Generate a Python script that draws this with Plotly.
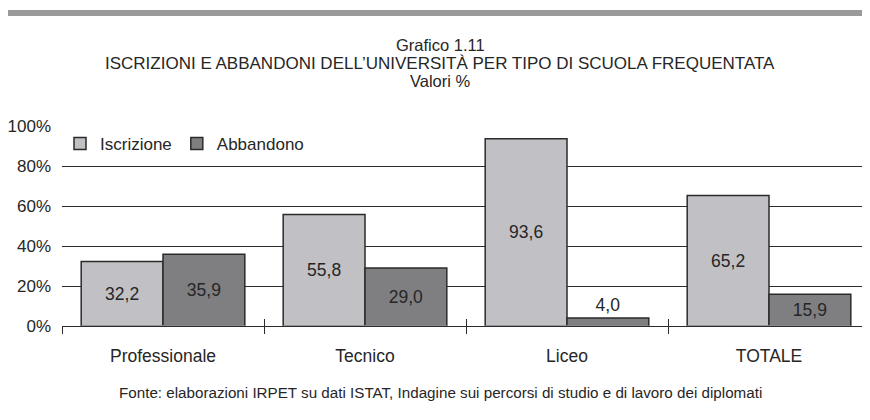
import plotly.graph_objects as go

# Dati
categorie = ["Professionale", "Tecnico", "Liceo", "TOTALE"]
iscrizione = [32.2, 55.8, 93.6, 65.2]
abbandono = [35.9, 29.0, 4.0, 15.9]

FONT = "Liberation Sans, Arial, sans-serif"
COLOR_TESTO = "#262626"
COLOR_ISCR = "#c1c1c5"
COLOR_ABB = "#7f7f82"
COLOR_BORDO = "#2b2b2b"

# la pagina ha un margine di 8px: coordinate in pixel della pagina -> figura
OFF = 8
W, H = 870 - OFF, 420 - OFF
L = 62 - OFF
T = 126 - OFF
B = H - (326 - OFF)
R = 0
pw = W - L - R
ph = H - T - B


def px_x(x):
    return (x - OFF - L) / pw


def px_y(y):
    return (H - B - (y - OFF)) / ph


def etichette(vals):
    return [f"{v:.1f}".replace(".", ",") for v in vals]


fig = go.Figure()

fig.add_trace(go.Bar(
    x=categorie, y=iscrizione, name="Iscrizione",
    marker=dict(color=COLOR_ISCR, line=dict(color=COLOR_BORDO, width=1.5)),
    text=etichette(iscrizione), textposition="inside", insidetextanchor="middle",
    textfont=dict(size=17.5, color=COLOR_TESTO), constraintext="none",
))
fig.add_trace(go.Bar(
    x=categorie, y=abbandono, name="Abbandono",
    marker=dict(color=COLOR_ABB, line=dict(color=COLOR_BORDO, width=1.5)),
    text=etichette(abbandono), textposition="auto", insidetextanchor="middle",
    textfont=dict(size=17.5, color=COLOR_TESTO), constraintext="none",
    outsidetextfont=dict(size=17.5, color=COLOR_TESTO),
))

# asse secondario solo per i trattini che attraversano l'asse x
fig.add_trace(go.Bar(x=categorie, y=[0] * 4, xaxis="x2", showlegend=False,
                     hoverinfo="skip", marker=dict(color="rgba(0,0,0,0)")))

fig.update_layout(
    width=W, height=H,
    margin=dict(l=L, r=R, t=T, b=B),
    paper_bgcolor="white", plot_bgcolor="white",
    font=dict(family=FONT, size=17, color=COLOR_TESTO),
    barmode="group", bargap=0.19, bargroupgap=0,
    showlegend=True,
    legend=dict(orientation="h", x=px_x(60), y=px_y(126), xanchor="left", yanchor="top",
                bgcolor="rgba(0,0,0,0)", font=dict(size=17),
                itemwidth=30, tracegroupgap=0),
    xaxis=dict(type="category", showgrid=False, showline=True, linecolor=COLOR_BORDO,
               linewidth=1, ticks="outside", tickson="boundaries", ticklen=7,
               tickcolor=COLOR_BORDO, tickfont=dict(size=17.5), ticklabelstandoff=14,
               fixedrange=True),
    xaxis2=dict(type="category", overlaying="x", matches="x", side="bottom",
                showticklabels=False, ticks="inside", tickson="boundaries", ticklen=7,
                tickcolor=COLOR_BORDO, showgrid=False, showline=False),
    yaxis=dict(range=[0, 100], dtick=20, ticksuffix="%", showgrid=True,
               gridcolor=COLOR_BORDO, gridwidth=1, zeroline=False, showline=False,
               ticks="", ticklabelstandoff=10, tickfont=dict(size=17)),
)

# titolo
cx = px_x(440)
fig.add_annotation(x=cx, y=px_y(45), xref="paper", yref="paper", showarrow=False,
                   text="Grafico 1.11", font=dict(size=16.5), yanchor="middle")
fig.add_annotation(x=cx, y=px_y(63), xref="paper", yref="paper", showarrow=False,
                   text="ISCRIZIONI E ABBANDONI DELL’UNIVERSITÀ PER TIPO DI SCUOLA FREQUENTATA",
                   font=dict(size=17), yanchor="middle")
fig.add_annotation(x=cx, y=px_y(81), xref="paper", yref="paper", showarrow=False,
                   text="Valori %", font=dict(size=16.5), yanchor="middle")
fig.add_annotation(x=cx, y=px_y(392), xref="paper", yref="paper", showarrow=False,
                   text="Fonte: elaborazioni IRPET su dati ISTAT, Indagine sui percorsi di studio e di lavoro dei diplomati",
                   font=dict(size=15.2), yanchor="middle")

# fascia grigia in alto
fig.add_shape(type="rect", xref="paper", yref="paper",
              x0=px_x(4), x1=px_x(870), y0=px_y(16), y1=px_y(10),
              fillcolor="#9a9a9a", line=dict(width=0), layer="above")

fig.write_html("out.html")
